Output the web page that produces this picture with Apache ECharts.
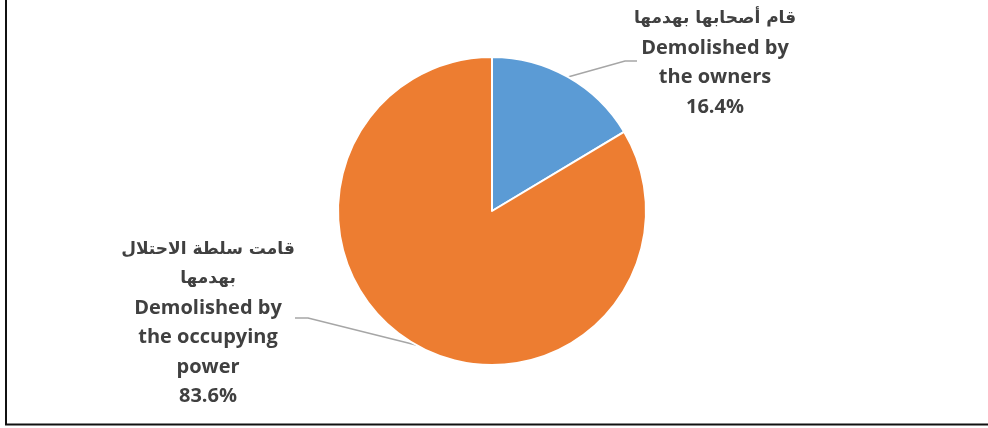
<!DOCTYPE html>
<html lang="ar">

<head>
  <meta charset="UTF-8">
  <title>Demolished houses</title>
  <style>
    html, body {
      margin: 0;
      padding: 0;
      background: #fff;
    }

    #chart {
      width: 988px;
      height: 428px;
    }
  </style>
</head>

<body>
  <div id="chart"></div>

  <script src="https://cdn.jsdelivr.net/npm/echarts@6/dist/echarts.min.js"></script>
  <script>
    // data
    const arabicNames = ['قام أصحابها بهدمها', 'قامت سلطة الاحتلال\nبهدمها'];
    const englishNames = ['Demolished by\nthe owners', 'Demolished by\nthe occupying\npower'];
    const percentValues = [16.4, 83.6];
    const sliceColors = ['#5B9BD5', '#ED7D31'];

    const seriesData = percentValues.map((v, i) => ({
      value: v,
      name: englishNames[i].replace(/\n/g, ' '),
      itemStyle: { color: sliceColors[i] },
    }));

    // where each label block sits (centre of the text block) and where its leader bends
    const labelSpots = [
      { x: 715, y: 63, bend: [625, 61], end: [637, 61] },
      { x: 208, y: 323, bend: [308, 318], end: [295, 318] },
    ];

    const chart = echarts.init(document.getElementById('chart'));

    chart.setOption({
      animation: false,
      graphic: [
        {
          type: 'line',
          shape: { x1: 6, y1: 0, x2: 6, y2: 425 },
          style: { stroke: '#111', lineWidth: 2 },
        },
        {
          type: 'line',
          shape: { x1: 5, y1: 424.5, x2: 988, y2: 424.5 },
          style: { stroke: '#111', lineWidth: 2 },
        },
      ],
      series: [{
        type: 'pie',
        center: [492, 211],
        radius: 154,
        startAngle: 90,
        clockwise: true,
        avoidLabelOverlap: false,
        data: seriesData,
        itemStyle: {
          borderColor: '#fff',
          borderWidth: 2,
        },
        label: {
          show: true,
          position: 'outside',
          color: '#404040',
          formatter: p => {
            const ar = arabicNames[p.dataIndex].split('\n').map(s => '{ar|' + s + '}');
            const en = englishNames[p.dataIndex].split('\n').map(s => '{en|' + s + '}');
            return ar.concat(en, ['{en|' + p.value.toFixed(1) + '%}']).join('\n');
          },
          rich: {
            ar: {
              fontFamily: '"DejaVu Sans", sans-serif',
              fontWeight: 'bold',
              fontSize: 17,
              lineHeight: 29.5,
              color: '#404040',
              align: 'center',
            },
            en: {
              fontFamily: '"Open Sans", sans-serif',
              fontWeight: 'bold',
              fontSize: 20,
              lineHeight: 29.5,
              color: '#404040',
              align: 'center',
            },
          },
        },
        labelLine: {
          show: true,
          length: 10,
          length2: 10,
          lineStyle: {
            color: '#A6A6A6',
            width: 1.5,
          },
        },
        labelLayout: params => {
          const spot = labelSpots[params.dataIndex];
          const start = params.labelLinePoints ? params.labelLinePoints[0] : spot.bend;
          return {
            x: spot.x,
            y: spot.y,
            align: 'center',
            verticalAlign: 'middle',
            labelLinePoints: [start, spot.bend, spot.end],
          };
        },
      }],
    });
  </script>
</body>

</html>
